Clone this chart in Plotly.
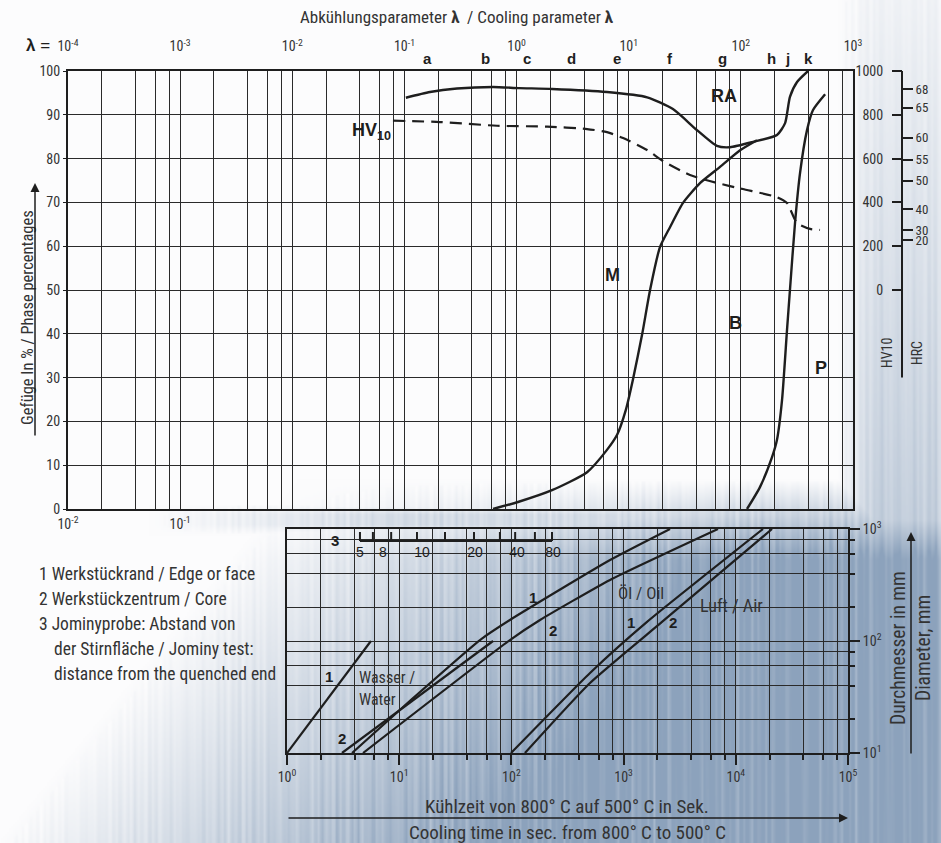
import numpy as np
import plotly.graph_objects as go
import zlib, struct, base64

W, H = 941, 843

# ---------------- data: upper panel (lambda, percent) ----------------
ra_lambda = [0.103, 0.169, 0.294, 0.617, 1.05, 2.07, 6.4, 14.6, 24.8, 40.6, 61.2, 80, 128, 210, 248, 274, 317, 397]
ra_pct = [93.9, 95.2, 96.0, 96.35, 96.1, 95.9, 95.2, 94.0, 91.3, 86.5, 82.9, 82.6, 83.8, 85.4, 88.1, 94.1, 97.5, 100]

m_lambda = [0.617, 1.03, 2.07, 4.25, 6.4, 7.9, 9.4, 10.9, 13.2, 15.5, 19.0, 23.4, 30.5, 43.2, 65.2, 98.4, 139]
m_pct = [0, 1.6, 4.3, 8.4, 13.5, 17.0, 22.5, 29.5, 40.0, 50, 59.8, 64.4, 69.9, 74.4, 78.1, 81.9, 84.2]

p_lambda = [113.5, 148, 190, 210, 233, 258, 274, 304, 337, 389, 440, 564]
p_pct = [0, 5.0, 11.9, 15.8, 24.9, 40.9, 50, 65.3, 76.7, 86.5, 91.1, 94.7]

hv_lambda = [0.079, 0.207, 0.67, 1.87, 4.25, 6.4, 8.9, 14.6, 20.2, 35.2, 61, 104, 210, 258, 317, 414, 508]
hv_values = [773, 767, 750, 746, 735, 721, 694, 639, 589, 525, 489, 461, 424, 397, 306, 279, 274]

phase_letters = ["a", "b", "c", "d", "e", "f", "g", "h", "j", "k"]
letter_lambda = [0.162, 0.524, 1.24, 3.12, 7.87, 23.3, 67.9, 186, 258, 397]

region_labels = ["<b>RA</b>", "<b>HV<sub>10</sub></b>", "<b>M</b>", "<b>B</b>", "<b>P</b>"]
region_lambda = [70.8, 0.0504, 7.24, 88.7, 519]
region_pct = [94.3, 86.3, 53.4, 42.5, 32.2]

pct_ticks = list(range(0, 101, 10))
lambda_exp = list(range(-4, 4))
hv_ticks = [0, 200, 400, 600, 800, 1000]
hrc_labels = ["68", "65", "60", "55", "50", "40", "30", "20"]
hrc_as_hv = [918, 832, 695, 595, 500, 368, 273, 227]

# ---------------- data: lower panel (cooling time s, diameter mm) ----------------
water1_t = [1.0, 5.6]
water1_d = [10, 100]
water2_t = [3.09, 68.6]
water2_d = [10, 100]
oil1_t = [3.8, 12.7, 52.5, 97, 757, 2594]
oil1_d = [10, 29.7, 102, 154, 528, 1000]
oil2_t = [4.76, 97, 180, 757, 6935]
oil2_d = [10, 102, 154, 351, 1000]
air1_t = [99.2, 502, 1617, 17470]
air1_d = [10, 51.8, 148, 1000]
air2_t = [132, 502, 2198, 21030]
air2_d = [10, 42.2, 148, 1000]

jominy_tick_t = [4.47, 5.83, 8.48, 14.4, 25.6, 46.4, 79, 108, 162, 230]
jominy_labels = ["5", "8", "10", "20", "40", "80"]
jominy_label_t = [4.47, 7.17, 16.0, 47.4, 112, 235]

time_exp = list(range(0, 6))
diam_exp = [1, 2, 3]

# ---------------- style ----------------
INK = "#1e1e1e"
GRID = "#2a2a2a"
TXT = "#333333"
NARROW = "Liberation Sans Narrow, Roboto Condensed, Arial Narrow, Roboto, sans-serif"
BOLD = "Liberation Sans, Arial, Helvetica, sans-serif"
PLOTBG = "#d5dce7"


def sup(base, e):
    return f"{base}<sup>{e}</sup>"


def px_x(x):
    return x / W


def px_y(y):
    return 1 - y / H


# ---------------- background texture ----------------
def png_data_uri(img):
    h, w, _ = img.shape
    raw = b"".join(b"\x00" + img[i].tobytes() for i in range(h))

    def chunk(tag, data):
        return struct.pack(">I", len(data)) + tag + data + struct.pack(">I", zlib.crc32(tag + data) & 0xFFFFFFFF)

    png = b"\x89PNG\r\n\x1a\n" + chunk(b"IHDR", struct.pack(">IIBBBBB", w, h, 8, 2, 0, 0, 0)) + \
        chunk(b"IDAT", zlib.compress(raw, 9)) + chunk(b"IEND", b"")
    return "data:image/png;base64," + base64.b64encode(png).decode()


def make_bg(w=471, h=422):
    X = np.linspace(0, W, w)[None, :]
    Y = np.linspace(0, H, h)[:, None]

    def sm(v, a, b):
        return np.clip((v - a) / (b - a), 0, 1)

    db = np.clip(1.2 * (X - 200) / 600 + 0.4 * (Y - 600) / 243, 0, 1) * sm(Y, 480, 560)
    db = np.maximum(db, np.clip((X - 150) / 700, 0, 0.35) * sm(Y, 505, 515) * (1 - sm(Y, 525, 535)))
    dr = sm(X, 840, 875) * (0.1 + 0.65 * Y / H)
    d = np.maximum(db, dr)
    streak = (np.sin(X * 0.9) + np.sin(X * 2.3 + 1.0) + np.sin(X * 0.37 + 2.0) + 0.5 * np.sin(X * 5.1 + Y * 0.01)) / 3.5
    d = np.clip(d * (1 + 0.25 * streak) + 0.04 * streak * (d > 0.02), 0, 1)
    light = np.array([252, 252, 253], dtype=float)
    dark = np.array([140, 162, 188], dtype=float)
    img = light[None, None, :] * (1 - d[..., None]) + dark[None, None, :] * d[..., None]
    return np.clip(img, 0, 255).astype(np.uint8)


fig = go.Figure()

line_style = dict(color=INK, width=2.4, shape="spline", smoothing=0.6)

# upper panel curves
fig.add_trace(go.Scatter(x=ra_lambda, y=ra_pct, mode="lines", line=line_style, xaxis="x", yaxis="y", hoverinfo="skip"))
fig.add_trace(go.Scatter(x=m_lambda, y=m_pct, mode="lines", line=line_style, xaxis="x", yaxis="y", hoverinfo="skip"))
fig.add_trace(go.Scatter(x=p_lambda, y=p_pct, mode="lines", line=line_style, xaxis="x", yaxis="y", hoverinfo="skip"))
fig.add_trace(go.Scatter(x=hv_lambda, y=hv_values, mode="lines",
                         line=dict(color=INK, width=2.2, dash="12px,7px", shape="spline", smoothing=0.6),
                         xaxis="x", yaxis="y3", hoverinfo="skip"))
# helpers so that the overlay axes get drawn (invisible)
fig.add_trace(go.Scatter(x=hv_lambda, y=hv_values, mode="lines", line=dict(width=0), opacity=0,
                         xaxis="x", yaxis="y4", hoverinfo="skip"))
fig.add_trace(go.Scatter(x=[v * 100 for v in hv_lambda], y=ra_pct[:len(hv_lambda)], mode="lines",
                         line=dict(width=0), opacity=0, xaxis="x3", yaxis="y", hoverinfo="skip"))

# lower panel curves
low_style = dict(color=INK, width=2.2, shape="spline", smoothing=0.5)
for tt, dd in [(water1_t, water1_d), (water2_t, water2_d), (oil1_t, oil1_d), (oil2_t, oil2_d),
               (air1_t, air1_d), (air2_t, air2_d)]:
    fig.add_trace(go.Scatter(x=tt, y=dd, mode="lines", line=low_style, xaxis="x2", yaxis="y2", hoverinfo="skip"))

# Jominy scale
jb, jt = 781, 940
jx, jy = [jominy_tick_t[0], jominy_tick_t[-1], None], [jb, jb, None]
for t in jominy_tick_t:
    jx += [t, t, None]
    jy += [jb, jt, None]
fig.add_trace(go.Scatter(x=jx, y=jy, mode="lines", line=dict(color=INK, width=2), xaxis="x2", yaxis="y2",
                         hoverinfo="skip"))
fig.add_trace(go.Scatter(x=jominy_label_t, y=[600] * len(jominy_label_t), mode="text", text=jominy_labels,
                         textfont=dict(family=BOLD, size=14, color=INK), xaxis="x2", yaxis="y2", hoverinfo="skip"))

# ---------------- axes ----------------
top_dom_x = [px_x(68), px_x(853)]
top_dom_y = [px_y(509), px_y(71)]
bot_dom_x = [px_x(287), px_x(848)]
bot_dom_y = [px_y(753), px_y(529)]

minor_top = [m * 10.0 ** k for k in range(-4, 3) for m in (2, 4, 6, 8)]
minor_time = [m * 10.0 ** k for k in range(0, 5) for m in (2, 4, 6, 8)]
minor_diam = [m * 10.0 ** k for k in range(1, 3) for m in (2, 4, 6, 8)]

tickfont = dict(family=NARROW, size=14, color=TXT)

fig.update_layout(
    width=W, height=H,
    margin=dict(l=0, r=0, t=0, b=0, autoexpand=False),
    paper_bgcolor="white",
    plot_bgcolor=PLOTBG,
    showlegend=False,
    xaxis=dict(type="log", range=[-4, 3], domain=top_dom_x, anchor="y", side="top", automargin=False,
               tickvals=[10.0 ** e for e in lambda_exp], ticktext=[sup("10", e) for e in lambda_exp],
               ticks="", ticklabelstandoff=12, tickfont=tickfont,
               showgrid=True, gridcolor=GRID, gridwidth=1.3,
               minor=dict(tickvals=minor_top, showgrid=True, gridcolor=GRID, gridwidth=1.3, ticks=""),
               showline=True, linecolor=INK, linewidth=2, mirror=True, zeroline=False),
    xaxis3=dict(type="log", range=[-2, 5], overlaying="x", anchor="y", side="bottom", automargin=False,
                tickvals=[0.01, 0.1], ticktext=[sup("10", -2), sup("10", -1)], ticklabelstandoff=5,
                ticks="", tickfont=tickfont, showgrid=False, showline=False, zeroline=False),
    yaxis=dict(range=[0, 100], domain=top_dom_y, anchor="x", tickvals=pct_ticks, automargin=False,
               ticks="outside", ticklen=3, tickcolor=INK, tickfont=tickfont,
               showgrid=True, gridcolor=GRID, gridwidth=1.3,
               showline=True, linecolor=INK, linewidth=2, mirror=True, zeroline=False),
    yaxis3=dict(range=[-1000, 1000], overlaying="y", anchor="free", position=px_x(902), side="left",
                automargin=False,
                tickvals=hv_ticks, ticks="outside", ticklen=10, tickwidth=2, tickcolor=INK,
                ticklabelstandoff=6, tickfont=tickfont,
                showgrid=False, showline=False, zeroline=False),
    yaxis4=dict(range=[-1000, 1000], overlaying="y", anchor="free", position=px_x(902), side="right",
                automargin=False,
                tickvals=hrc_as_hv, ticktext=hrc_labels, ticks="outside", ticklen=10, tickwidth=2,
                tickcolor=INK, tickfont=dict(family=NARROW, size=13, color=TXT),
                showgrid=False, showline=False, zeroline=False),
    xaxis2=dict(type="log", range=[0, 5], domain=bot_dom_x, anchor="y2", automargin=False,
                tickvals=[10.0 ** e for e in time_exp], ticktext=[sup("10", e) for e in time_exp],
                ticks="outside", ticklen=10, tickwidth=1.5, tickcolor=INK, tickfont=tickfont,
                showgrid=True, gridcolor=GRID, gridwidth=1.3,
                minor=dict(tickvals=minor_time, showgrid=True, gridcolor=GRID, gridwidth=1.3,
                           ticks="outside", ticklen=5, tickcolor=INK),
                showline=True, linecolor=INK, linewidth=2, mirror=True, zeroline=False),
    yaxis2=dict(type="log", range=[1, 3], domain=bot_dom_y, anchor="x2", side="right", automargin=False,
                tickvals=[10.0 ** e for e in diam_exp], ticktext=[sup("10", e) for e in diam_exp],
                ticks="outside", ticklen=10, tickwidth=1.5, tickcolor=INK, tickfont=tickfont,
                showgrid=True, gridcolor=GRID, gridwidth=1.3,
                minor=dict(tickvals=minor_diam, showgrid=True, gridcolor=GRID, gridwidth=1.3,
                           ticks="outside", ticklen=5, tickcolor=INK),
                showline=True, linecolor=INK, linewidth=2, mirror=True, zeroline=False),
    images=[dict(source=png_data_uri(make_bg()), xref="paper", yref="paper", x=0, y=1,
                 sizex=1, sizey=1, sizing="stretch", layer="below", xanchor="left", yanchor="top")],
)

# HV / HRC scale spine
fig.add_shape(type="line", xref="paper", yref="y3", x0=px_x(902), x1=px_x(902), y0=-400, y1=1000,
              line=dict(color=INK, width=2))

ann = []
# phase letters on top
for s, lam in zip(phase_letters, letter_lambda):
    ann.append(dict(x=np.log10(lam), y=px_y(58), xref="x", yref="paper", text=f"<b>{s}</b>", showarrow=False,
                    xanchor="center", yanchor="middle", font=dict(family=BOLD, size=15, color=INK)))
# region labels
for s, lam, p in zip(region_labels, region_lambda, region_pct):
    ann.append(dict(x=np.log10(lam), y=p, xref="x", yref="y", text=s, showarrow=False,
                    xanchor="center", yanchor="middle", font=dict(family=BOLD, size=18, color=INK)))


def txt(x, y, s, size=15, family=NARROW, color=TXT, angle=0, xanchor="center"):
    ann.append(dict(x=px_x(x), y=px_y(y), xref="paper", yref="paper", text=s, showarrow=False,
                    textangle=angle, xanchor=xanchor, yanchor="middle",
                    font=dict(family=family, size=size, color=color)))


txt(456, 17, "Abkühlungsparameter <b>λ</b>  / Cooling parameter <b>λ</b>", size=17)
txt(38, 45, "<b>λ</b> =", size=17, family=BOLD, color=INK)
txt(27, 318, "Gefüge In % / Phase percentages", size=16.5, angle=-90)
txt(887, 353, "HV10", size=14, angle=-90)
txt(917, 353, "HRC", size=14, angle=-90)
txt(898, 648, "Durchmesser in mm", size=19.5, angle=-90)
txt(923, 648, "Diameter, mm", size=19.5, angle=-90)
txt(567, 806, "Kühlzeit von 800° C auf 500° C in Sek.", size=19)
txt(567, 832, "Cooling time in sec. from 800° C to 500° C", size=19)

txt(37, 574, "1 Werkstückrand / Edge or face", size=17.5, xanchor="left")
txt(37, 599, "2 Werkstückzentrum / Core", size=17.5, xanchor="left")
txt(37, 624, "3 Jominyprobe: Abstand von", size=17.5, xanchor="left")
txt(52, 649, "der Stirnfläche / Jominy test:", size=17.5, xanchor="left")
txt(52, 674, "distance from the quenched end", size=17.5, xanchor="left")

# curve labels in lower panel
txt(335, 540, "<b>3</b>", size=15, family=BOLD, color=INK)
txt(329, 676, "<b>1</b>", size=15, family=BOLD, color=INK)
txt(342, 738, "<b>2</b>", size=15, family=BOLD, color=INK)
txt(533, 597, "<b>1</b>", size=15, family=BOLD, color=INK)
txt(553, 630, "<b>2</b>", size=15, family=BOLD, color=INK)
txt(631, 622, "<b>1</b>", size=15, family=BOLD, color=INK)
txt(673, 622, "<b>2</b>", size=15, family=BOLD, color=INK)
txt(357, 677, "Wasser /", size=16, xanchor="left")
txt(357, 699, "Water", size=16, xanchor="left")
txt(641, 593, "Öl / Oil", size=17)
txt(731, 605, "Luft / Air", size=18)

# arrows
ann.append(dict(x=px_x(35), y=px_y(183), xref="paper", yref="paper", ax=0, ay=254, axref="pixel", ayref="pixel",
                showarrow=True, arrowhead=2, arrowsize=1.2, arrowwidth=1.5, arrowcolor=INK, text=""))
ann.append(dict(x=px_x(911), y=px_y(532), xref="paper", yref="paper", ax=0, ay=223,
                showarrow=True, arrowhead=2, arrowsize=1.2, arrowwidth=1.5, arrowcolor=INK, text=""))
ann.append(dict(x=px_x(848), y=px_y(818), xref="paper", yref="paper", ax=-561, ay=0,
                showarrow=True, arrowhead=2, arrowsize=1.2, arrowwidth=1.5, arrowcolor=INK, text=""))

fig.update_layout(annotations=ann)
fig.write_html("out.html", config={"displayModeBar": False},
               post_script="document.body.style.margin='0px';document.body.style.padding='0px';")
